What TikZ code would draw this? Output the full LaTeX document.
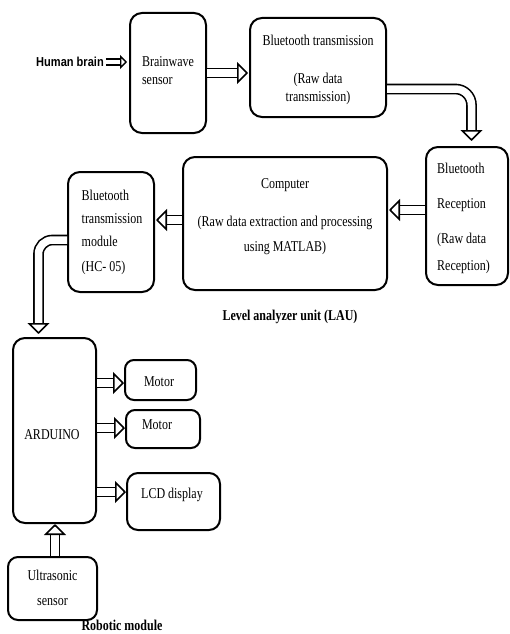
\documentclass[tikz,border=0pt]{standalone}
\usepackage{fontspec}
\setmainfont{Liberation Serif}[FakeStretch=0.8]
\newfontfamily\hbfont{Liberation Sans}[FakeStretch=0.85]
\usetikzlibrary{arrows.meta}
\begin{document}
\begin{tikzpicture}[x=1pt,y=-1pt,
  box/.style={draw, line width=2pt, rounded corners=12pt, inner sep=0pt},
  txt/.style={font=\fontsize{15}{18}\selectfont, inner sep=0pt, align=center},
  txtl/.style={txt, align=left},
  lbl/.style={font=\fontsize{15}{18}\selectfont\bfseries, inner sep=0pt},
  blk/.style={line width=1.6pt, double=white, double distance=7.5pt,
    -{Triangle[fill=white, length=11pt, width=22pt, line width=1.6pt]}},
  blks/.style={line width=1.3pt, double=white, double distance=4.5pt,
    -{Triangle[fill=white, length=7pt, width=14pt, line width=1.3pt]}}
]
\useasboundingbox (0,0) rectangle (510,634);

% boxes
\node[box, minimum width=76pt, minimum height=120pt] (brain) at (168,73) {};
\node[box, minimum width=136pt, minimum height=99pt] (bttx) at (318,67.5) {};
\node[box, minimum width=82pt, minimum height=138pt] (btrx) at (467,216) {};
\node[box, minimum width=204pt, minimum height=133pt] (comp) at (285,223.5) {};
\node[box, minimum width=86pt, minimum height=120pt] (btmod) at (111,232) {};
\node[box, minimum width=83pt, minimum height=185pt] (ard) at (54.5,430.5) {};
\node[box, minimum width=71pt, minimum height=40pt, rounded corners=9pt] (m1) at (160.5,380) {};
\node[box, minimum width=74pt, minimum height=38pt, rounded corners=9pt] (m2) at (163,429) {};
\node[box, minimum width=93pt, minimum height=57pt, rounded corners=11pt] (lcd) at (173.5,501.5) {};
\node[box, minimum width=89pt, minimum height=63pt, rounded corners=10pt] (us) at (52.5,588.5) {};

% texts
\node[txtl] (braint) at (168,71) {Brainwave\\sensor};
\node[txt] (bttxt) at (318,70) {Bluetooth transmission\\[20pt](Raw data\\transmission)};
\node[txtl] (btrxt) at (463.5,218.5) {Bluetooth\\[17pt]Reception\\[17pt](Raw data\\[9pt]Reception)};
\node[txt] (compt) at (285,216.5) {Computer\\[20pt](Raw data extraction and processing\\[7pt]using MATLAB)};
\node[txtl] (btmodt) at (112,232.5) {Bluetooth\\[5pt]transmission\\[5pt]module\\[7pt](HC- 05)};
\node[txt] (ardt) at (52,435) {ARDUINO};
\node[txt] (m1t) at (159,382) {Motor};
\node[txt] (m2t) at (157,425) {Motor};
\node[txt] (lcdt) at (172,495) {LCD display};
\node[txt] (ust) at (52.5,587.5) {Ultrasonic\\[7pt]sensor};
\node[inner sep=0pt, font=\hbfont\fontsize{13}{15}\selectfont\bfseries] (hb) at (70,62) {Human brain};
\node[lbl] (lau) at (290,317) {Level analyzer unit (LAU)};
\node[lbl, anchor=base] (rob) at (122,630) {Robotic module};

% connectors
\draw[blks] ([xshift=2pt]hb.east) -- ([xshift=-2pt]hb.east -| brain.west);
\draw[blk] (brain.east) -- ([xshift=-1pt]brain.east -| bttx.west);
\draw[blk, rounded corners=16pt] ([yshift=-21.5pt]bttx.east) -| ([xshift=4.5pt,yshift=5pt]btrx.north);
\draw[blk] ([yshift=6pt]btrx.west) -- ([xshift=1pt,yshift=6pt]btrx.west -| comp.east);
\draw[blk] ([yshift=3.5pt]comp.west) -- ([xshift=1pt,yshift=3.5pt]comp.west -| btmod.east);
\draw[blk, rounded corners=14pt] ([yshift=-8pt]btmod.west) -| ([xshift=-16pt,yshift=3pt]ard.north);
\draw[blk] ([yshift=47.5pt]ard.east) -- ([yshift=47.5pt]ard.east -| m1.west);
\draw[blk] ([yshift=2.5pt]ard.east) -- ([yshift=2.5pt]ard.east -| m2.west);
\draw[blk] ([yshift=-61.5pt]ard.east) -- ([yshift=-61.5pt]ard.east -| lcd.west);
\draw[blk] ([xshift=2.5pt]us.north) -- ([xshift=2.5pt]us.north |- ard.south);
\end{tikzpicture}
\end{document}
